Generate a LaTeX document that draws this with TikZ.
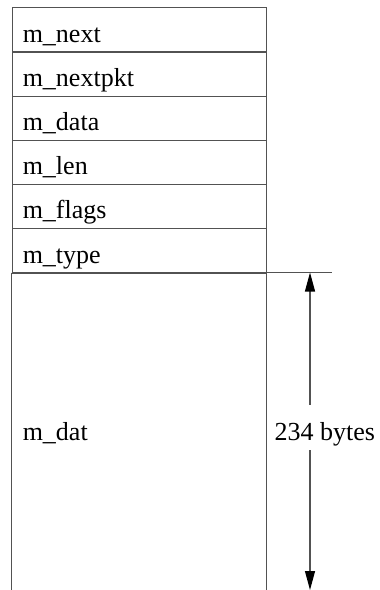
\documentclass[tikz,border=0pt]{standalone}
\usepackage{fontspec}
\setmainfont{Liberation Serif}
\usetikzlibrary{arrows.meta}
\begin{document}
\begin{tikzpicture}[x=1bp,y=-1bp,
  font=\fontsize{26bp}{30bp}\selectfont,
  rule/.style={draw=black!68, line width=1.1bp},
  field/.style={rule, rectangle, anchor=north west,
    minimum width=254bp, minimum height=44.2bp,
    inner xsep=10.5bp, inner ysep=0pt, text width=233bp, align=left,
    text height=29.2bp, text depth=5bp},
  span/.style={rule,
    {Triangle[length=19bp,width=10bp,fill=black,color=black]}-{Triangle[length=19bp,width=10bp,fill=black,color=black]}}]
\useasboundingbox (0,0) rectangle (379,590);

% header fields of the mbuf
\node[field] (next)    at (11.7,7.3)   {m\_next};
\node[field] (nextpkt) at (11.7,51.5)  {m\_nextpkt};
\node[field] (data)    at (11.7,95.7)  {m\_data};
\node[field] (len)     at (11.7,139.9) {m\_len};
\node[field] (flags)   at (11.7,184.1) {m\_flags};
\node[field] (type)    at (11.7,228.3) {m\_type};

% data area, open at the bottom
\node[field, draw=none, minimum height=317.5bp, text depth=11.7bp] (dat)
  at (11.7,272.5) {m\_dat};
\draw[rule] (dat.north west) -- (dat.south west);
\draw[rule] (dat.north east) -- (dat.south east);
\coordinate (ext) at (331.7,272.5);
\draw[rule] (dat.north west) -- (ext);

% size of the data area
\coordinate (top) at (310,272.5);
\coordinate (bot) at (310,590);
\draw[span] (top) -- (bot);
\node[fill=white, inner xsep=1bp, inner ysep=0pt, minimum height=45bp,
  text height=30bp, text depth=5bp] (bytes) at (324.8,427.5) {234 bytes};
\end{tikzpicture}
\end{document}
